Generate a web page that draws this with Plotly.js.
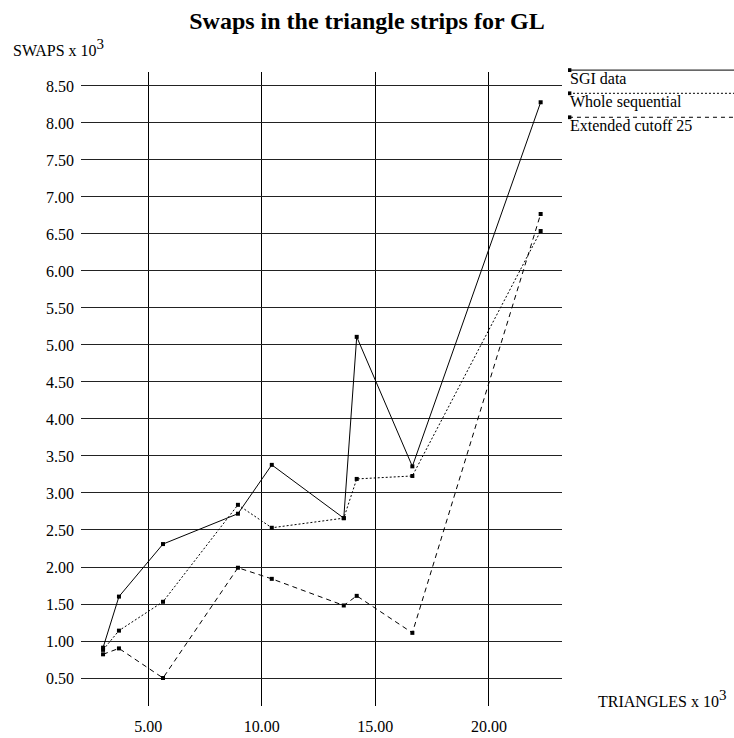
<!DOCTYPE html>
<html>
<head>
<meta charset="utf-8">
<script src="https://cdn.plot.ly/plotly-3.0.1.min.js"></script>
<style>html,body{margin:0;padding:0;background:#fff;}#chart{width:734px;height:738px;}</style>
</head>
<body>
<div id="chart"></div>
<script>
// Data (thousands)
const triangles = [3.01, 3.71, 5.65, 8.95, 10.44, 13.61, 14.18, 16.63, 22.28];
const sgiData = [0.91, 1.60, 2.31, 2.72, 3.38, 2.66, 5.11, 3.36, 8.28];
const wholeSequential = [0.88, 1.14, 1.53, 2.84, 2.53, 2.66, 3.19, 3.23, 6.54];
const extendedCutoff25 = [0.82, 0.90, 0.50, 1.99, 1.84, 1.48, 1.61, 1.11, 6.77];
const seriesNames = ["SGI data", "Whole sequential", "Extended cutoff 25"];
const xTicks = [5, 10, 15, 20];
const yTicks = [0.5, 1, 1.5, 2, 2.5, 3, 3.5, 4, 4.5, 5, 5.5, 6, 6.5, 7, 7.5, 8, 8.5];

const serif = "Liberation Serif, Times New Roman, serif";
const dashes = ["solid", "2px,2px", "5px,4px"];
const series = [sgiData, wholeSequential, extendedCutoff25];

const traces = series.map((ys, i) => ({
  x: triangles, y: ys, type: "scatter", mode: "lines+markers",
  name: seriesNames[i],
  line: {color: "#000", width: 1, dash: dashes[i]},
  marker: {symbol: "square", size: 4, color: "#000"},
  showlegend: false
}));

// custom legend (line above label, marker at the left end)
const legendY = [1.003, 0.9664, 0.9286];
const shapes = [];
const annotations = [];
legendY.forEach((ly, i) => {
  shapes.push({type: "line", xref: "paper", yref: "paper", x0: 1.0145, x1: 1.36, y0: ly, y1: ly,
    line: {color: "#000", width: 1, dash: i === 2 ? "4px,4px" : dashes[i]}});
  shapes.push({type: "rect", xref: "paper", yref: "paper", x0: 1.0125, x1: 1.0195, y0: ly - 0.003, y1: ly + 0.003,
    fillcolor: "#000", line: {width: 0}});
  annotations.push({xref: "paper", yref: "paper", x: 1.0125, y: ly + 0.003, xanchor: "left", yanchor: "top",
    text: seriesNames[i], showarrow: false, font: {family: serif, size: 16, color: "#000"}});
});
const sup3 = "<sup><span style=\"font-size:15px\">3</span></sup>";
annotations.push({xref: "paper", yref: "paper", x: -0.146, y: 1.038, xanchor: "left", yanchor: "middle",
  text: "SWAPS x 10" + sup3, showarrow: false, font: {family: serif, size: 16, color: "#000"}});
annotations.push({xref: "paper", yref: "paper", x: 1.071, y: 0.012, xanchor: "left", yanchor: "middle",
  text: "TRIANGLES x 10" + sup3, showarrow: false, font: {family: serif, size: 16, color: "#000"}});

const layout = {
  width: 734, height: 738,
  margin: {l: 81, r: 172, t: 72, b: 32},
  paper_bgcolor: "#fff", plot_bgcolor: "#fff",
  title: {text: "<b>Swaps in the triangle strips for GL</b>", x: 0.5, xref: "container", xanchor: "center",
    y: 0.972, yref: "container", yanchor: "middle",
    font: {family: serif, size: 24, color: "#000"}},
  xaxis: {range: [2.039, 23.22], tickvals: xTicks, ticktext: xTicks.map(v => v.toFixed(2)),
    showgrid: true, gridcolor: "#000", gridwidth: 1, zeroline: false, showline: false,
    ticks: "", ticklabelstandoff: 9, tickfont: {family: serif, size: 16, color: "#000"}},
  yaxis: {range: [0.1216, 8.689], tickvals: yTicks, ticktext: yTicks.map(v => v.toFixed(2)),
    showgrid: true, gridcolor: "#222", gridwidth: 1, zeroline: false, showline: false,
    ticks: "", ticklabelstandoff: 6, tickfont: {family: serif, size: 16, color: "#000"}},
  shapes: shapes, annotations: annotations, showlegend: false
};

Plotly.newPlot("chart", traces, layout, {displayModeBar: false, staticPlot: true});
</script>
</body>
</html>
